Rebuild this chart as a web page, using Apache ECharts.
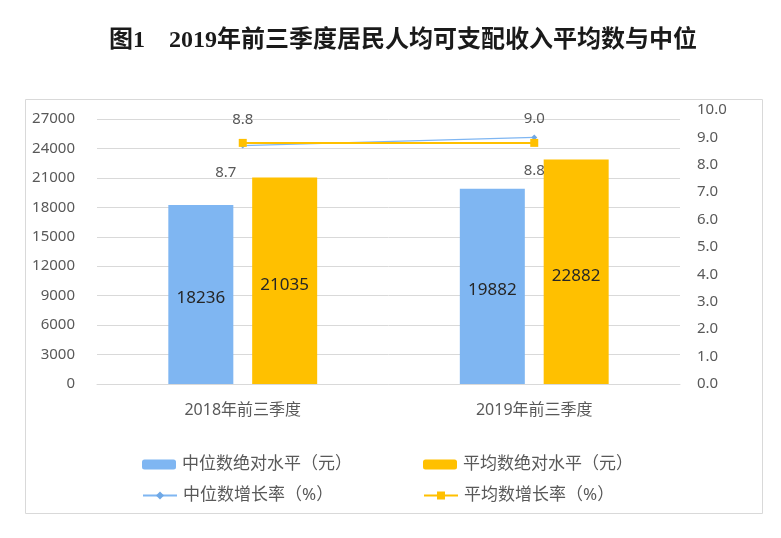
<!DOCTYPE html>
<html>
<head>
<meta charset="utf-8">
<script src="https://cdn.jsdelivr.net/npm/echarts@6/dist/echarts.min.js"></script>
<style>
  html, body { margin: 0; padding: 0; background: #fff; }
  #main { width: 781px; height: 538px; }
</style>
</head>
<body>
<div id="main"></div>
<script>
// values
var categories = ['2018年前三季度', '2019年前三季度'];
var medianIncome = [18236, 19882];   // 中位数绝对水平（元）
var meanIncome = [21035, 22882];     // 平均数绝对水平（元）
var medianRate = [8.7, 9.0];         // 中位数增长率（%）
var meanRate = [8.8, 8.8];           // 平均数增长率（%）

var names = ['中位数绝对水平（元）', '平均数绝对水平（元）', '中位数增长率（%）', '平均数增长率（%）'];

// label placement of the rate points (style only)
var medianLabelPos = [
    {position: 'bottom', distance: 17, offset: [-17, 0]},
    {position: 'top', distance: 8}
];
var meanLabelPos = [
    {position: 'top', distance: 12},
    {position: 'bottom', distance: 16}
];

var font = "'Noto Sans', 'Noto Sans CJK SC', sans-serif";
var gray = '#595959';
var gridColor = '#d9d9d9';
var blue = '#7fb6f2';
var yellow = '#ffc000';

var chartDom = document.getElementById('main');
var myChart = echarts.init(chartDom);

function legendItem(name, left, top, w, h){
    return {
        data: [name],
        left: left,
        top: top,
        itemWidth: w,
        itemHeight: h,
        itemGap: 0,
        selectedMode: false,
        textStyle: {color: gray, fontSize: 17, fontFamily: font, padding: [0, 0, 0, 1]}
    };
}

var option = {
    animation: false,
    title: {
        text: '图1\u30002019年前三季度居民人均可支配收入平均数与中位',
        left: 104,
        top: 24,
        textStyle: {
            fontFamily: "'Liberation Serif', 'Noto Sans CJK SC', serif",
            fontSize: 24,
            fontWeight: 'bold',
            color: '#1a1a1a'
        }
    },
    graphic: [{
        type: 'rect',
        shape: {x: 25.5, y: 99.5, width: 737, height: 414},
        style: {fill: null, stroke: gridColor, lineWidth: 1},
        silent: true
    }],
    legend: [
        legendItem(names[0], 137, 451, 34, 10),
        legendItem(names[1], 418, 451, 34, 10),
        legendItem(names[2], 137, 482, 34, 10),
        legendItem(names[3], 418, 482, 34, 10)
    ],
    grid: [
        {left: 97, right: 101, top: 119, bottom: 154},
        {left: 97, right: 101, top: 110, bottom: 154}
    ],
    xAxis: [{
        type: 'category',
        gridIndex: 0,
        data: categories,
        axisLine: {lineStyle: {color: gridColor}},
        axisTick: {show: false},
        axisLabel: {color: gray, fontSize: 16, fontFamily: font, margin: 18}
    }, {
        type: 'category',
        gridIndex: 1,
        data: categories,
        show: false
    }],
    yAxis: [{
        type: 'value',
        gridIndex: 0,
        min: 0,
        max: 27000,
        interval: 3000,
        axisLine: {show: false},
        axisTick: {show: false},
        splitLine: {lineStyle: {color: gridColor, width: 1}},
        axisLabel: {
            color: gray, fontSize: 15, fontFamily: font, margin: 22,
            formatter: function(v){ return String(v); }
        }
    }, {
        type: 'value',
        gridIndex: 1,
        position: 'right',
        min: 0,
        max: 10,
        interval: 1,
        axisLine: {show: false},
        axisTick: {show: false},
        splitLine: {show: false},
        axisLabel: {
            color: gray, fontSize: 15, fontFamily: font, margin: 17,
            formatter: function(v){ return v.toFixed(1); }
        }
    }],
    series: [{
        name: names[0],
        type: 'bar',
        xAxisIndex: 0,
        yAxisIndex: 0,
        data: medianIncome,
        barWidth: 65,
        barGap: '29%',
        itemStyle: {color: blue},
        label: {
            show: true, position: 'inside', offset: [0, 4],
            color: '#262626', fontSize: 17, fontFamily: font
        }
    }, {
        name: names[1],
        type: 'bar',
        xAxisIndex: 0,
        yAxisIndex: 0,
        data: meanIncome,
        barWidth: 65,
        barGap: '29%',
        itemStyle: {color: yellow},
        label: {
            show: true, position: 'inside', offset: [0, 4],
            color: '#262626', fontSize: 17, fontFamily: font
        }
    }, {
        name: names[2],
        type: 'line',
        xAxisIndex: 1,
        yAxisIndex: 1,
        data: medianRate.map(function(v, i){
            return {value: v, label: medianLabelPos[i]};
        }),
        symbol: 'diamond',
        symbolSize: 6,
        itemStyle: {color: '#6fa8e6'},
        lineStyle: {color: '#7fb6f2', width: 1.2},
        label: {
            show: true, color: gray, fontSize: 15, fontFamily: font,
            formatter: function(p){ return p.value.toFixed(1); }
        },
        z: 3
    }, {
        name: names[3],
        type: 'line',
        xAxisIndex: 1,
        yAxisIndex: 1,
        data: meanRate.map(function(v, i){
            return {value: v, label: meanLabelPos[i]};
        }),
        symbol: 'rect',
        symbolSize: 8,
        itemStyle: {color: yellow},
        lineStyle: {color: yellow, width: 2},
        label: {
            show: true, color: gray, fontSize: 15, fontFamily: font,
            formatter: function(p){ return p.value.toFixed(1); }
        },
        z: 4
    }]
};

option && myChart.setOption(option);
</script>
</body>
</html>
